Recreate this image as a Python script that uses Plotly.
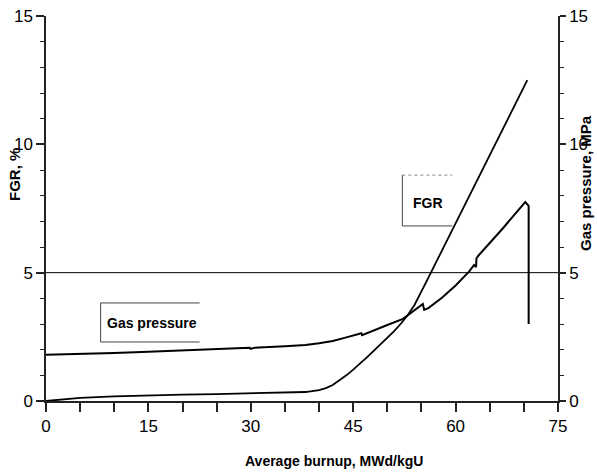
import plotly.graph_objects as go

# ---- data ----
fgr_burnup = [0, 5, 10, 15, 20, 25, 30, 35, 38, 40, 41, 42, 43, 44, 45, 46, 47, 48, 49, 50,
              51, 52, 53, 54, 55, 56, 57, 58, 60, 62, 64, 66, 68, 70.5]
fgr_value = [0, 0.12, 0.18, 0.22, 0.25, 0.27, 0.29, 0.31, 0.35, 0.42, 0.5, 0.62, 0.8, 1.0,
             1.22, 1.45, 1.7, 1.95, 2.2, 2.45, 2.72, 3.02, 3.35, 3.75, 4.25, 4.8, 5.33,
             5.86, 6.92, 7.98, 9.04, 10.1, 11.16, 12.5]

gas_burnup = [0, 5, 10, 15, 20, 25, 29.8, 30.0, 30.4, 35, 38, 40, 42, 44, 45, 46.2, 46.3,
              47, 48, 50, 52.3, 54, 55.2, 55.4, 56, 58, 60, 62, 62.7, 63.0, 63.05, 63.3,
              65, 67, 69, 70.2, 70.7, 70.7]
gas_value = [1.8, 1.83, 1.87, 1.92, 1.97, 2.02, 2.07, 2.03, 2.07, 2.13, 2.18, 2.25, 2.34,
             2.48, 2.55, 2.64, 2.56, 2.63, 2.74, 2.96, 3.2, 3.52, 3.78, 3.55, 3.62, 4.02,
             4.5, 5.05, 5.3, 5.22, 5.55, 5.65, 6.15, 6.75, 7.38, 7.75, 7.6, 3.0]

x_tickvals = list(range(0, 80, 5))
x_ticktext = [str(v) if v % 15 == 0 else "" for v in x_tickvals]
y_tickvals = [0, 5, 10, 15]

FONT = "Liberation Sans, Arial"

fig = go.Figure()
fig.add_trace(go.Scatter(x=fgr_burnup, y=fgr_value, mode="lines",
                         line=dict(color="black", width=1.8), showlegend=False))
fig.add_trace(go.Scatter(x=gas_burnup, y=gas_value, mode="lines", yaxis="y2",
                         line=dict(color="black", width=2), showlegend=False))

axis_common = dict(showgrid=False, zeroline=False, showline=True, linecolor="#222",
                   linewidth=1.5, ticks="outside", tickcolor="#222", automargin=False,
                   tickfont=dict(family=FONT, size=17, color="black"))
minor = dict(dtick=1, ticklen=4, tickcolor="#222", ticks="outside", tickwidth=1.2)

fig.update_layout(
    width=597, height=472,
    margin=dict(l=46, r=39, t=16, b=71),
    plot_bgcolor="white", paper_bgcolor="white",
    xaxis=dict(range=[0, 75], tickmode="array", tickvals=x_tickvals, ticktext=x_ticktext,
               ticklen=9, tickwidth=1.5, **axis_common),
    yaxis=dict(range=[0, 15], tickmode="array", tickvals=y_tickvals, ticklen=8,
               tickwidth=1.5, minor=minor, **axis_common),
    yaxis2=dict(range=[0, 15], tickmode="array", tickvals=y_tickvals, overlaying="y",
                side="right", ticklen=6, tickwidth=1.5, minor=minor, **axis_common),
)

# horizontal reference line at 5
fig.add_shape(type="line", xref="paper", yref="y", x0=0, x1=1, y0=5, y1=5,
              line=dict(color="black", width=1))

# label boxes (partial borders)
fig.add_shape(type="line", xref="x", yref="y", x0=8.0, x1=22.5, y0=3.82, y1=3.82,
              line=dict(color="#444", width=1))
fig.add_shape(type="line", xref="x", yref="y", x0=8.0, x1=8.0, y0=2.3, y1=3.82,
              line=dict(color="#444", width=1))
fig.add_shape(type="line", xref="x", yref="y", x0=8.0, x1=22.5, y0=2.3, y1=2.3,
              line=dict(color="#444", width=1))
fig.add_shape(type="line", xref="x", yref="y", x0=52.2, x1=59.5, y0=8.8, y1=8.8,
              line=dict(color="#888", width=1, dash="dot"))
fig.add_shape(type="line", xref="x", yref="y", x0=52.2, x1=52.2, y0=6.82, y1=8.8,
              line=dict(color="#444", width=1))
fig.add_shape(type="line", xref="x", yref="y", x0=52.2, x1=59.5, y0=6.82, y1=6.82,
              line=dict(color="#444", width=1))

fig.add_annotation(x=15.5, y=3.04, xref="x", yref="y", text="<b>Gas pressure</b>",
                   showarrow=False, font=dict(family=FONT, size=14, color="black"))
fig.add_annotation(x=55.9, y=7.72, xref="x", yref="y", text="<b>FGR</b>",
                   showarrow=False, font=dict(family=FONT, size=14, color="black"))

# axis titles
fig.add_annotation(xref="paper", yref="paper", x=(334 - 46) / 512, y=-(461 - 401) / 385,
                   xanchor="center", yanchor="middle",
                   text="<b>Average burnup, MWd/kgU</b>", showarrow=False,
                   font=dict(family=FONT, size=14, color="black"))
fig.add_annotation(xref="paper", yref="paper", x=-(46 - 14) / 512, y=(401 - 175) / 385,
                   xanchor="center", yanchor="middle",
                   text="<b>FGR, %</b>", textangle=-90, showarrow=False,
                   font=dict(family=FONT, size=15, color="black"))
fig.add_annotation(xref="paper", yref="paper", x=1 + (585 - 558) / 512, y=(401 - 183) / 385,
                   xanchor="center", yanchor="middle",
                   text="<b>Gas pressure, MPa</b>", textangle=-90, showarrow=False,
                   font=dict(family=FONT, size=15, color="black"))

fig.write_html("out.html")
